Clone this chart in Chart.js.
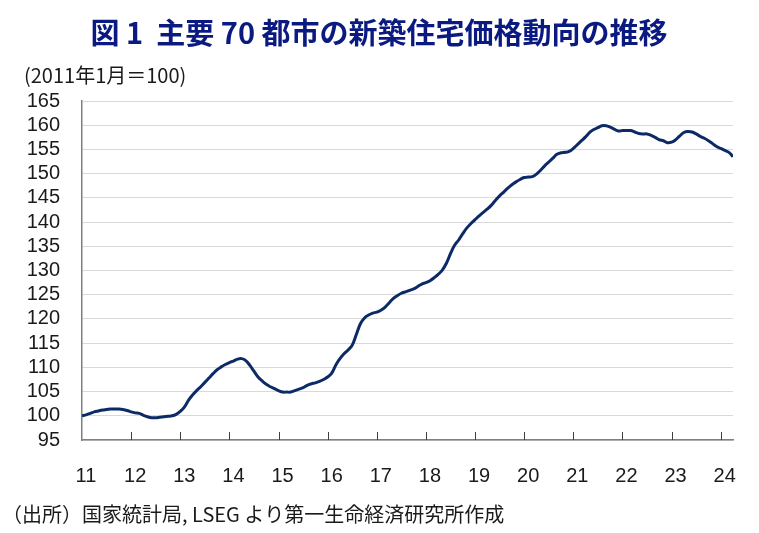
<!DOCTYPE html>
<html>
<head>
<meta charset="utf-8">
<script src="https://cdn.jsdelivr.net/npm/chart.js@4"></script>
<style>
  html, body { margin: 0; padding: 0; background: #fff; }
  #wrap { width: 759px; height: 533px; position: relative; }
</style>
</head>
<body>
<div id="wrap"><canvas id="chart"></canvas></div>
<script>
// 2011年1月 ～ 2024年4月 (月次, 2011年1月=100)
const yearLabels = ['11','12','13','14','15','16','17','18','19','20','21','22','23','24'];
const yTicks = [95,100,105,110,115,120,125,130,135,140,145,150,155,160,165];
const priceIndex = [
  // 2011
  100.0, 100.2, 100.5, 100.8, 101.0, 101.2, 101.3, 101.4, 101.4, 101.4, 101.3, 101.1,
  // 2012
  100.8, 100.6, 100.5, 100.1, 99.8, 99.6, 99.6, 99.7, 99.8, 99.9, 100.0, 100.3,
  // 2013
  100.9, 101.8, 103.2, 104.3, 105.2, 106.0, 106.9, 107.8, 108.7, 109.5, 110.1, 110.6,
  // 2014
  111.0, 111.3, 111.7, 111.8, 111.4, 110.4, 109.2, 108.0, 107.2, 106.5, 106.0, 105.6,
  // 2015
  105.2, 104.9, 104.9, 104.9, 105.2, 105.5, 105.8, 106.3, 106.6, 106.8, 107.1, 107.5,
  // 2016
  108.0, 108.8, 110.5, 111.8, 112.8, 113.6, 114.6, 116.8, 119.0, 120.2, 120.8, 121.2,
  // 2017
  121.4, 121.8, 122.4, 123.3, 124.2, 124.8, 125.3, 125.6, 125.9, 126.2, 126.7, 127.2,
  // 2018
  127.5, 127.9, 128.5, 129.2, 130.1, 131.5, 133.5, 135.2, 136.3, 137.6, 138.8, 139.7,
  // 2019
  140.5, 141.3, 142.0, 142.7, 143.5, 144.5, 145.4, 146.2, 147.0, 147.7, 148.3, 148.8,
  // 2020
  149.2, 149.3, 149.4, 149.9, 150.7, 151.6, 152.4, 153.2, 154.0, 154.3, 154.4, 154.6,
  // 2021
  155.2, 156.0, 156.8, 157.6, 158.5, 159.1, 159.5, 159.9, 159.9, 159.6, 159.2, 158.8,
  // 2022
  158.9, 158.9, 158.9, 158.6, 158.3, 158.2, 158.2, 157.9, 157.5, 157.0, 156.8, 156.4,
  // 2023
  156.5, 157.0, 157.8, 158.5, 158.7, 158.6, 158.2, 157.7, 157.3, 156.8, 156.2, 155.6,
  // 2024
  155.2, 154.8, 154.4, 153.5
];

const titleText = '図 1  主要 70 都市の新築住宅価格動向の推移';
const unitText = '(2011年1月＝100)';
const sourceText = '（出所）国家統計局, LSEG より第一生命経済研究所作成';

const numFont = '"Liberation Sans Narrow", "Liberation Sans", sans-serif';
const jpFont = '"Noto Sans CJK JP", sans-serif';

// 軸の内側に短い目盛り線を描く
const innerTicks = {
  id: 'innerTicks',
  afterDraw(chart) {
    const ctx = chart.ctx;
    const x = chart.scales.x;
    const bottom = chart.chartArea.bottom;
    ctx.save();
    ctx.strokeStyle = '#404040';
    ctx.lineWidth = 1;
    x.ticks.forEach((t, i) => {
      if (i === 0) return;
      const px = Math.round(x.getPixelForTick(i)) + 0.5;
      ctx.beginPath();
      ctx.moveTo(px, bottom);
      ctx.lineTo(px, bottom - 8);
      ctx.stroke();
    });
    ctx.restore();
  }
};

// タイトル・単位・出所
const texts = {
  id: 'texts',
  afterDraw(chart) {
    const ctx = chart.ctx;
    ctx.save();
    ctx.textBaseline = 'middle';
    ctx.fillStyle = '#0a1a80';
    ctx.font = 'bold 29px ' + jpFont;
    ctx.textAlign = 'center';
    ctx.fillText(titleText, 379, 33);
    ctx.fillStyle = '#1a1a1a';
    ctx.textAlign = 'left';
    ctx.font = '20px ' + jpFont;
    ctx.fillText(unitText, 24, 75);
    ctx.fillText(sourceText, 2, 514);
    ctx.restore();
  }
};

new Chart(document.getElementById('chart'), {
  type: 'line',
  data: {
    datasets: [{
      data: priceIndex.map((v, i) => ({ x: i, y: v })),
      borderColor: '#0c2a66',
      borderWidth: 3,
      pointRadius: 0,
      tension: 0.4,
      fill: false
    }]
  },
  options: {
    responsive: true,
    maintainAspectRatio: false,
    animation: false,
    layout: { padding: { top: 101, right: 26, bottom: 0, left: 0 } },
    plugins: { legend: { display: false }, tooltip: { enabled: false } },
    scales: {
      x: {
        type: 'linear',
        min: 0,
        max: priceIndex.length - 1,
        afterBuildTicks(scale) {
          scale.ticks = yearLabels.map((_, i) => ({ value: i * 12 }));
        },
        afterFit(scale) { scale.height = 93; },
        grid: { display: false, drawTicks: false },
        border: { display: true, color: '#808080', width: 1.5 },
        ticks: {
          padding: 24,
          labelOffset: 4,
          maxRotation: 0,
          autoSkip: false,
          color: '#1a1a1a',
          font: { family: numFont, size: 20 },
          callback: (v) => yearLabels[v / 12]
        }
      },
      y: {
        min: 95,
        max: 165,
        afterBuildTicks(scale) {
          scale.ticks = yTicks.map(v => ({ value: v }));
        },
        afterFit(scale) { scale.width = 82; },
        grid: { color: '#d9d9d9', lineWidth: 1, drawTicks: false },
        border: { display: true, color: '#808080', width: 1.5 },
        ticks: {
          padding: 22,
          autoSkip: false,
          color: '#1a1a1a',
          font: { family: numFont, size: 20 }
        }
      }
    }
  },
  plugins: [innerTicks, texts]
});
</script>
</body>
</html>
